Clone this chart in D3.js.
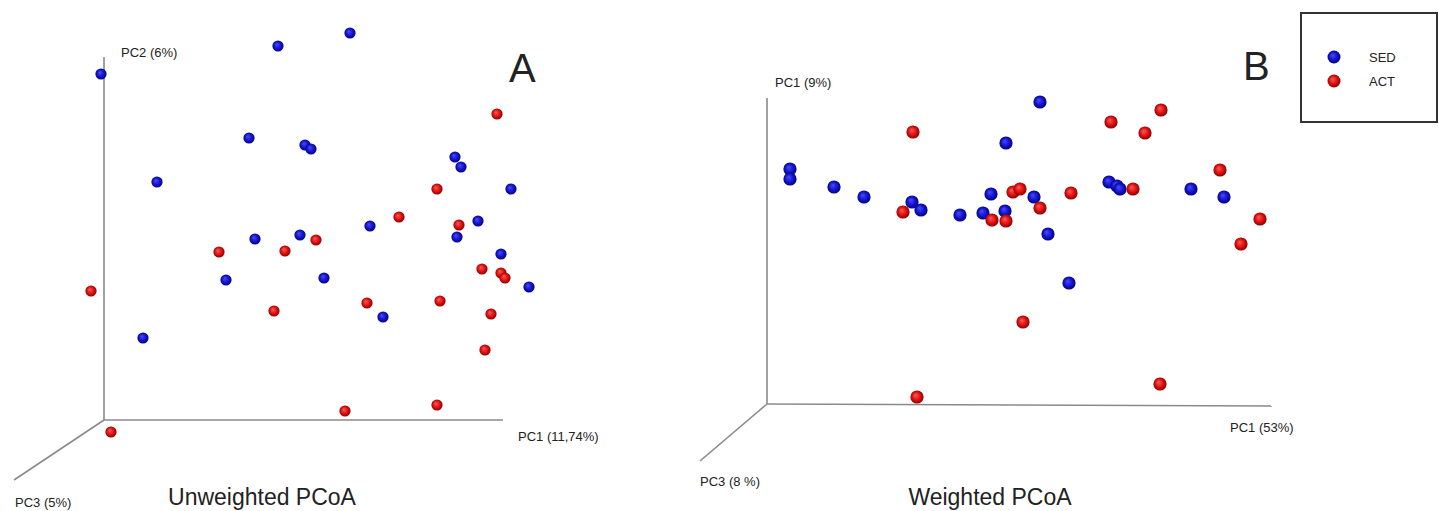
<!DOCTYPE html>
<html>
<head>
<meta charset="utf-8">
<script src="https://cdn.jsdelivr.net/npm/d3@7"></script>
<style>
  body { margin: 0; background: #fff; }
  text { font-family: "Liberation Sans", Arial, sans-serif; fill: #222; }
</style>
</head>
<body>
<script>
// point scores (offset from the axis origin, picture units)
var groups = ["SED", "ACT"];

// panel A - unweighted
var sedA = [[-3,346],[174,374],[246,387],[53,238],[145,282],[201,275],[207,271],[351,263],[357,253],[407,231],
            [266,194],[374,199],[353,183],[151,181],[196,185],[122,140],[220,142],[397,166],[425,133],[279,103],[39,82]];
var actA = [[393,306],[333,231],[295,203],[355,195],[212,180],[115,168],[181,169],[378,151],[397,147],[401,142],
            [-13,129],[263,117],[336,119],[170,109],[387,106],[381,70],[241,9],[333,15],[7,-12]];

// panel B - weighted
var sedB = [[23,235],[23,225],[67,217],[97,207],[145,202],[154,194],[193,189],[216,191],[224,210],[238,193],
            [239,261],[273,302],[267,207],[281,170],[302,121],[342,222],[350,218],[353,215],[424,215],[457,207]];
var actB = [[146,272],[136,192],[225,184],[239,183],[246,212],[253,215],[273,196],[304,211],[344,282],[394,294],
            [378,271],[366,215],[453,234],[493,185],[474,160],[256,82],[150,7],[393,20]];

var svg = d3.select("body").append("svg")
    .attr("width", 1439)
    .attr("height", 511);

// sphere-like shading
var defs = svg.append("defs");
function sphere(id, light, mid, dark) {
  var g = defs.append("radialGradient").attr("id", id)
      .attr("cx", "50%").attr("cy", "50%").attr("r", "55%")
      .attr("fx", "38%").attr("fy", "35%");
  g.append("stop").attr("offset", "0%").attr("stop-color", light);
  g.append("stop").attr("offset", "55%").attr("stop-color", mid);
  g.append("stop").attr("offset", "100%").attr("stop-color", dark);
}
sphere("gSED", "#4a4aff", "#1414cc", "#000070");
sphere("gACT", "#ff5a5a", "#e01010", "#7a0000");
var fills = { SED: "url(#gSED)", ACT: "url(#gACT)" };

function panel(o) {
  var x = d3.scaleLinear().domain([0, 400]).range([o.ox, o.ox + 400]);
  var y = d3.scaleLinear().domain([0, 400]).range([o.oy, o.oy - 400]);
  var g = svg.append("g");

  // the three axes
  g.append("line").attr("x1", x(0)).attr("y1", y(0)).attr("x2", x(0)).attr("y2", y(o.yLen))
      .attr("stroke", "#8a8a8a").attr("stroke-width", 1.6);
  g.append("line").attr("x1", x(0)).attr("y1", y(0)).attr("x2", x(o.xLen)).attr("y2", y(o.xDrop))
      .attr("stroke", "#8a8a8a").attr("stroke-width", 1.6);
  g.append("line").attr("x1", x(0)).attr("y1", y(0)).attr("x2", x(o.z[0])).attr("y2", y(o.z[1]))
      .attr("stroke", "#8a8a8a").attr("stroke-width", 1.6);

  // points
  [["SED", o.sed], ["ACT", o.act]].forEach(function (s) {
    g.selectAll(".p" + s[0]).data(s[1]).enter().append("circle")
        .attr("cx", function (d) { return x(d[0]); })
        .attr("cy", function (d) { return y(d[1]); })
        .attr("r", o.r)
        .attr("fill", fills[s[0]]);
  });

  // labels
  o.labels.forEach(function (l) {
    g.append("text").attr("x", l[0]).attr("y", l[1])
        .style("font-size", l[2] + "px")
        .attr("text-anchor", l[4] || "start")
        .text(l[3]);
  });
}

panel({
  ox: 104, oy: 420, xLen: 399, xDrop: 0, yLen: 363, z: [-90, -60], r: 5.6,
  sed: sedA, act: actA,
  labels: [[121, 57, 13, "PC2 (6%)"], [509, 82, 40, "A"], [518, 441, 13, "PC1 (11,74%)"],
           [15, 507, 13, "PC3 (5%)"], [262, 505, 23, "Unweighted PCoA", "middle"]]
});

panel({
  ox: 767, oy: 404, xLen: 505, xDrop: -2, yLen: 306, z: [-67, -57], r: 6.6,
  sed: sedB, act: actB,
  labels: [[775, 87, 13, "PC1 (9%)"], [1243, 80, 40, "B"], [1230, 432, 13, "PC1  (53%)"],
           [700, 486, 13, "PC3 (8 %)"], [990, 505, 23, "Weighted PCoA", "middle"]]
});

// legend
var leg = svg.append("g");
leg.append("rect").attr("x", 1301).attr("y", 13).attr("width", 136).attr("height", 109)
    .attr("fill", "#fff").attr("stroke", "#333").attr("stroke-width", 2);
groups.forEach(function (k, i) {
  leg.append("circle").attr("cx", 1334).attr("cy", 57 + i * 24).attr("r", 6.5).attr("fill", fills[k]);
  leg.append("text").attr("x", 1369).attr("y", 62 + i * 24).style("font-size", "13px").text(k);
});
</script>
</body>
</html>
